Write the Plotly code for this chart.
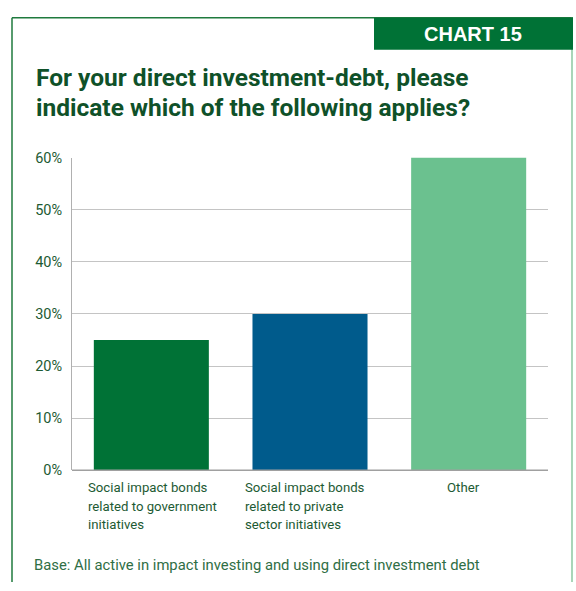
import plotly.graph_objects as go

# Survey responses (share of respondents)
categories = [
    ["Social impact bonds", "related to government", "initiatives"],
    ["Social impact bonds", "related to private", "sector initiatives"],
    ["Other"],
]
shares = [0.25, 0.30, 0.60]
bar_colors = ["#007236", "#005b8c", "#6bc18f"]
tick_vals = [0, 0.1, 0.2, 0.3, 0.4, 0.5, 0.6]
tick_text = ["0%", "10%", "20%", "30%", "40%", "50%", "60%"]

W, H = 576, 591
FONT = "Roboto, Liberation Sans, sans-serif"
DARK_GREEN = "#1d5a33"
TITLE_GREEN = "#0f5129"


def px(x):
    return x / W


def py(y):
    return 1 - y / H


fig = go.Figure(
    go.Bar(
        x=[0, 1, 2],
        y=shares,
        marker=dict(color=bar_colors, line=dict(width=0)),
        width=0.725,
        hoverinfo="skip",
    )
)

fig.update_layout(
    width=W,
    height=H,
    margin=dict(l=0, r=0, t=0, b=0),
    paper_bgcolor="white",
    plot_bgcolor="white",
    showlegend=False,
    xaxis=dict(
        domain=[px(72), px(548)],
        range=[-0.5, 2.5],
        showticklabels=False,
        showgrid=False,
        zeroline=False,
        showline=False,
        fixedrange=True,
    ),
    yaxis=dict(
        domain=[py(476), py(154)],
        range=[0, 0.6],
        tickvals=tick_vals,
        ticktext=tick_text,
        tickfont=dict(family=FONT, size=14.5, color=DARK_GREEN),
        ticks="",
        ticklabelstandoff=6,
        showgrid=True,
        gridcolor="#c4c4c4",
        gridwidth=1,
        zeroline=False,
        showline=True,
        linecolor="#b0b0b0",
        linewidth=1,
        fixedrange=True,
    ),
)

shapes = [
    # frame around the panel
    dict(type="line", xref="paper", yref="paper", x0=px(12), x1=px(12), y0=0, y1=py(10),
         line=dict(color="#1f7a3e", width=1.5)),
    dict(type="line", xref="paper", yref="paper", x0=px(12), x1=px(573), y0=py(10), y1=py(10),
         line=dict(color="#1f7a3e", width=1.5)),
    dict(type="line", xref="paper", yref="paper", x0=px(572), x1=px(572), y0=0, y1=py(10),
         line=dict(color="#8cc7a0", width=1.5)),
    # chart number tab
    dict(type="rect", xref="paper", yref="paper", x0=px(374), x1=px(573), y0=py(43), y1=py(10),
         fillcolor="#007236", line=dict(width=0)),
    # baseline of the plot
    dict(type="line", xref="paper", yref="paper", x0=px(72), x1=px(548), y0=py(476), y1=py(476),
         line=dict(color="#a0a0a0", width=1.5)),
]
fig.update_layout(shapes=shapes)

annotations = [
    dict(text="<b>CHART 15</b>", x=px(473), y=py(27), xref="paper", yref="paper",
         xanchor="center", yanchor="middle", showarrow=False,
         font=dict(family="Liberation Sans, Arial, sans-serif", size=20, color="white")),
    dict(text="<b>For your direct investment-debt, please</b>", x=px(34), y=py(72),
         xref="paper", yref="paper", xanchor="left", yanchor="middle", showarrow=False,
         font=dict(family=FONT, size=24.5, color=TITLE_GREEN)),
    dict(text="<b>indicate which of the following applies?</b>", x=px(34), y=py(102),
         xref="paper", yref="paper", xanchor="left", yanchor="middle", showarrow=False,
         font=dict(family=FONT, size=24.5, color=TITLE_GREEN)),
    dict(text="Base: All active in impact investing and using direct investment debt",
         x=px(32), y=py(574), xref="paper", yref="paper", xanchor="left", yanchor="middle",
         showarrow=False, font=dict(family=FONT, size=14.8, color="#2f6e45")),
]

# category labels under each bar, one annotation per line
label_x = [86, 243, 463]
label_anchor = ["left", "left", "center"]
line_y = [494, 513, 532]
for lines, lx, anc in zip(categories, label_x, label_anchor):
    for text, ly in zip(lines, line_y):
        annotations.append(dict(
            text=text, x=px(lx), y=py(ly), xref="paper", yref="paper",
            xanchor=anc, yanchor="middle", showarrow=False,
            font=dict(family=FONT, size=13.2, color=DARK_GREEN),
        ))
fig.update_layout(annotations=annotations)

fig.write_html("out.html")
